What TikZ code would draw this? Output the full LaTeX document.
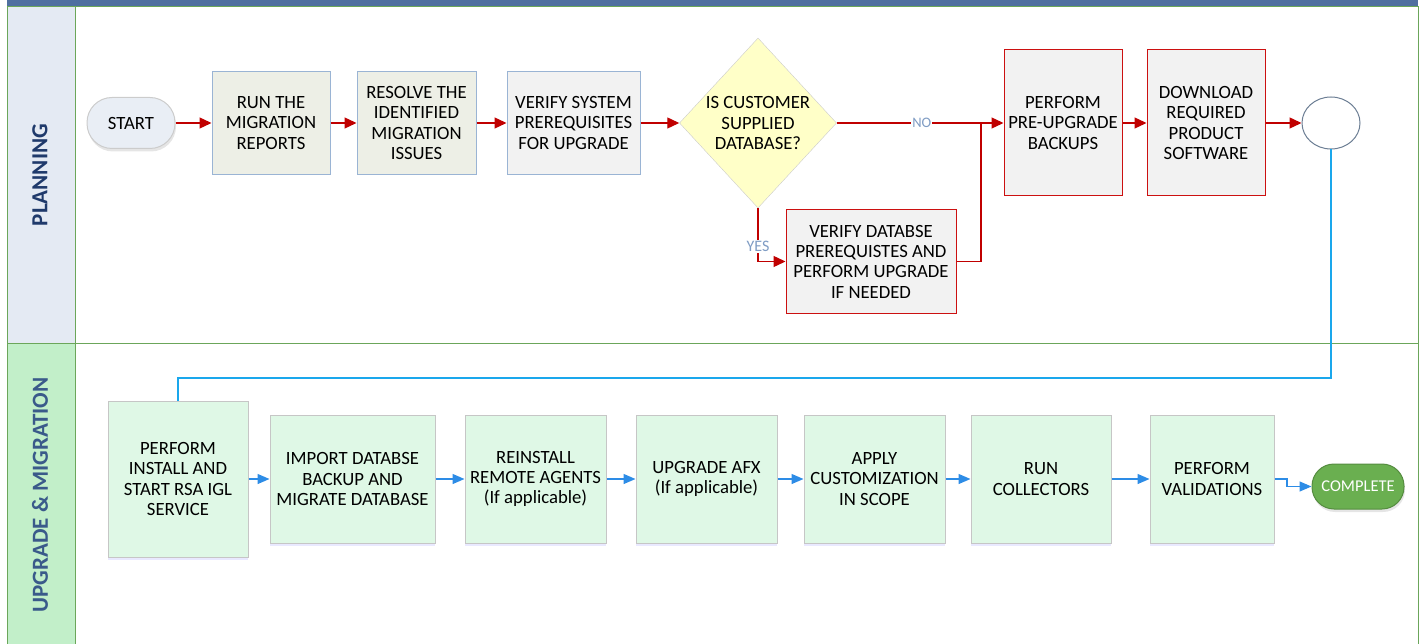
\documentclass[tikz,border=0pt]{standalone}
\usepackage{fontspec}
\setmainfont{Carlito}
\usetikzlibrary{shapes.geometric,arrows.meta,shadows}
\definecolor{barblue}{HTML}{4F6FA0}
\definecolor{lanegreen}{HTML}{6BA65A}
\definecolor{planhead}{HTML}{E4EAF3}
\definecolor{upghead}{HTML}{C2EFC9}
\definecolor{headtext}{HTML}{1F3A6B}
\definecolor{headtextb}{HTML}{3A5A8A}
\definecolor{planfill}{HTML}{EDEFE6}
\definecolor{planedge}{HTML}{9AB4D4}
\definecolor{greyfill}{HTML}{F2F2F2}
\definecolor{redline}{HTML}{C00000}
\definecolor{rededge}{HTML}{CC1010}
\definecolor{dbfill}{HTML}{FFFFC8}
\definecolor{upgfill}{HTML}{DFF8E6}
\definecolor{upgedge}{HTML}{C6C6C6}
\definecolor{cyanline}{HTML}{1AA7EC}
\definecolor{blueflow}{HTML}{2D8CE6}
\definecolor{donefill}{HTML}{6AAF50}
\definecolor{labelblue}{HTML}{7F9CC4}
\def\boxh{103}

\begin{document}
\begin{tikzpicture}[x=1pt,y=-1pt,font=\fontsize{18.7}{20.3}\selectfont]
    \tikzstyle{task}=[rectangle,draw,align=center,inner sep=2pt,line width=1pt]
    \tikzstyle{plan task}=[task,fill=planfill,draw=planedge,minimum height=\boxh pt]
    \tikzstyle{red task}=[task,fill=greyfill,draw=rededge]
    \tikzstyle{upg task}=[task,fill=upgfill,draw=upgedge,minimum height=128pt,
        drop shadow={shadow xshift=0pt,shadow yshift=-3pt,fill=blue!25,opacity=.35}]
    \tikzstyle{red flow}=[draw=redline,line width=1.3pt,-{Triangle[length=12pt,width=11pt]}]
    \tikzstyle{blue flow}=[draw=blueflow,line width=1.3pt,-{Triangle[length=12pt,width=10pt]}]
    \tikzstyle{answer}=[fill=white,text=labelblue,inner sep=1pt]
    \tikzstyle{lane title}=[rotate=90,font=\fontsize{23}{26}\selectfont\bfseries]

    % Draw the swim lanes
    \useasboundingbox (0,0) rectangle (1423,644);
    \fill[barblue] (7,0) rectangle (1418,7);
    \draw[lanegreen,line width=1pt] (7,7) rectangle (1418,343);
    \draw[lanegreen,line width=1pt,fill=planhead] (7,7) rectangle (75,343);
    \draw[lanegreen,line width=1pt] (7,343) rectangle (1418,650);
    \draw[lanegreen,line width=1pt,fill=upghead] (7,343) rectangle (75,650);
    \node[lane title,text=headtext] (pl) at (40,175) {PLANNING};
    \node[lane title,text=headtextb] (um) at (40,495) {UPGRADE \& MIGRATION};

    % Draw the planning steps
    \node[task,fill=planhead!80,draw=gray!40,rounded corners=25pt,minimum width=88pt,
        minimum height=51pt,drop shadow={shadow xshift=1pt,shadow yshift=-3pt,fill=gray!40,opacity=.5}]
        (start) at (131,123) {START};
    \foreach \name/\x/\w/\txt in {run/271/118/{RUN THE\\MIGRATION\\REPORTS},
        resolve/416.5/119/{RESOLVE THE\\IDENTIFIED\\MIGRATION\\ISSUES}}
        \node[plan task,minimum width=\w pt] (\name) at (\x,123) {\txt};
    \node[plan task,fill=greyfill,minimum width=133pt] (verify) at (573.5,123)
        {VERIFY SYSTEM\\PREREQUISITES\\FOR UPGRADE};
    \node[diamond,draw=gray!40,fill=dbfill,align=center,inner sep=0pt,
        minimum width=156pt,minimum height=170pt] (db) at (758,123)
        {IS CUSTOMER\\SUPPLIED\\DATABASE?};
    \node[red task,minimum width=170pt,minimum height=103pt] (vdb) at (871,261.5)
        {VERIFY DATABSE\\PREREQUISTES AND\\PERFORM UPGRADE\\IF NEEDED};
    \foreach \name/\x/\txt in {backup/1063/{PERFORM\\PRE-UPGRADE\\BACKUPS},
        dl/1206/{DOWNLOAD\\REQUIRED\\PRODUCT\\SOFTWARE}}
        \node[red task,minimum width=118pt,minimum height=146pt] (\name) at (\x,123) {\txt};
    \node[ellipse,draw=planedge!70!black,fill=white,line width=1pt,minimum width=58pt,
        minimum height=52pt] (circ) at (1331,123) {};
    \coordinate (jn) at (981,123);
    \coordinate (turn) at (1331,378);

    % Draw the upgrade steps
    \node[upg task,minimum width=140pt,minimum height=156pt] (install) at (178,479)
        {PERFORM\\INSTALL AND\\START RSA IGL\\SERVICE};
    \foreach \name/\x/\w/\txt in {import/352.5/165/{IMPORT DATABSE\\BACKUP AND\\MIGRATE DATABASE},
        reinstall/535.5/141/{REINSTALL\\REMOTE AGENTS\\(If applicable)},
        afx/706.5/141/{UPGRADE AFX\\(If applicable)},
        apply/874.5/141/{APPLY\\CUSTOMIZATION\\IN SCOPE},
        collect/1041/140/{RUN\\COLLECTORS},
        valid/1212/124/{PERFORM\\VALIDATIONS}}
        \node[upg task,minimum width=\w pt] (\name) at (\x,479) {\txt};
    \node[task,fill=donefill,draw=donefill!80!black,text=white,rounded corners=22pt,
        minimum width=92pt,minimum height=45pt,font=\fontsize{16.5}{18}\selectfont,
        drop shadow={shadow xshift=1pt,shadow yshift=-3pt,fill=gray!40,opacity=.5}]
        (done) at (1358,486.5) {COMPLETE};
    \coordinate (step) at (1287,479);

    % Connect the planning steps
    \foreach \source/\dest in {start/run,run/resolve,resolve/verify,verify/db,backup/dl,dl/circ}
        \path[red flow] (\source) -- (\dest);
    \path[red flow] (db.east) -- node[answer,pos=0.51,font=\fontsize{14.5}{16}\selectfont] {NO} (backup.west);
    \path[red flow] (db.south) |- node[answer,pos=0.36,font=\fontsize{16}{17}\selectfont] {YES} (vdb.west);
    \draw[redline,line width=1.3pt] (vdb.east) -| (jn);

    % Hand over to the upgrade lane
    \draw[cyanline,line width=1.3pt] (circ.south) -- (turn) -| (install.north);

    % Connect the upgrade steps
    \foreach \source/\dest in {install/import,import/reinstall,reinstall/afx,afx/apply,
        apply/collect,collect/valid}
        \path[blue flow] (\source) -- (\dest);
    \path[blue flow] (valid.east) -- (step) |- (done.west);
\end{tikzpicture}
\end{document}
